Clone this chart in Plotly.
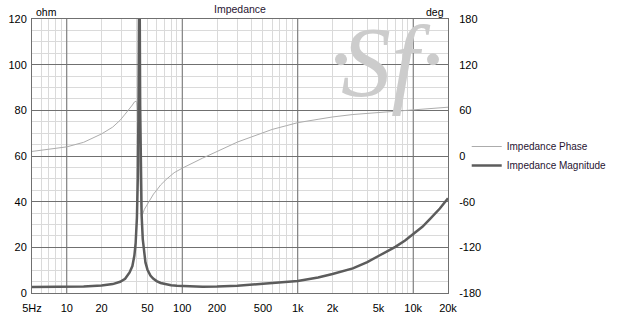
import plotly.graph_objects as go

# ---------------- data ----------------
mag_freq = [5, 7, 10, 14, 20, 25, 29, 32, 35, 37, 38.5, 39.5, 40.5, 41.2, 41.8, 42.2, 42.5,
            42.8, 43.2, 43.8, 44.5, 45.5, 46.5, 48, 50, 53, 56, 60, 65, 72, 80, 90, 100, 120,
            150, 200, 300, 500, 700, 1000, 1500, 2000, 3000, 4000, 5000, 6000, 7000, 8500,
            10000, 12000, 14000, 17000, 20000]
mag_ohm = [2.6, 2.65, 2.7, 2.85, 3.25, 3.9, 4.9, 6.2, 9.0, 11.8, 16.4, 22, 33, 50, 82, 127, 152,
           127, 82, 51, 34, 23.6, 18.3, 13.4, 10.2, 7.6, 6.3, 5.2, 4.4, 3.8, 3.4, 3.15, 3.0, 2.85,
           2.75, 2.85, 3.2, 4.0, 4.6, 5.3, 6.8, 8.3, 10.8, 13.5, 16.2, 18.3, 20.2, 23.0,
           25.7, 29.0, 32.5, 37.0, 41.5]

ph_freq = [5, 7, 10, 14, 20, 25, 29, 32, 35, 37, 38.5, 39.3, 39.8, 40.5, 41.2, 41.8, 42.5,
           43.2, 43.8, 44.7, 45.5, 47, 50, 53, 56.4, 60, 65, 73.6, 85, 100, 125, 150, 200,
           300, 400, 600, 800, 1000, 1500, 2000, 3000, 5000, 7000, 10000, 14000, 20000]
ph_deg = [6, 9, 12, 18, 29, 38, 47, 55, 62, 67, 71, 72.5, 72, 70, 60, 45, 0,
          -45, -65, -78, -76, -70, -63, -56, -50, -45, -38, -30, -22, -16, -8.5, -2.8, 5.9,
          18.3, 25.2, 34.9, 39.9, 43.8, 48.2, 51.3, 54.5, 57.2, 58.8, 60.2, 62.0, 64.1]

x_tickvals = [5, 10, 20, 50, 100, 200, 500, 1000, 2000, 5000, 10000, 20000]
x_ticktext = ["5Hz", "10", "20", "50", "100", "200", "500", "1k", "2k", "5k", "10k", "20k"]
x_decades = [10, 100, 1000, 10000]
x_minor = [m * d for d in [1, 10, 100, 1000, 10000] for m in range(2, 10) if 5 < m * d < 20000]

ohm_ticks = [0, 20, 40, 60, 80, 100, 120]
deg_ticks = [-180, -120, -60, 0, 60, 120, 180]
deg_text = ["-180", "-120", "-60", "0", "60", "120", "180"]

DARK = "rgb(112,112,112)"
LIGHT = "rgb(218,218,218)"
FONT = "Liberation Sans"

fig = go.Figure()

# dark decade grid lines
gx, gy = [], []
for d in x_decades:
    gx += [d, d, None]
    gy += [-180, 180, None]
fig.add_trace(go.Scatter(x=gx, y=gy, mode="lines", line=dict(color=DARK, width=1),
                         showlegend=False, hoverinfo="skip", xaxis="x", yaxis="y"))

fig.add_trace(go.Scatter(x=ph_freq, y=ph_deg, mode="lines", name="Impedance Phase",
                         line=dict(color="rgb(172,172,172)", width=1), xaxis="x", yaxis="y"))
fig.add_trace(go.Scatter(x=mag_freq, y=mag_ohm, mode="lines", name="Impedance Magnitude",
                         line=dict(color="rgb(92,92,92)", width=2.5), xaxis="x", yaxis="y2"))

fig.update_layout(
    width=623, height=313,
    margin=dict(l=32, r=175, t=19, b=20, autoexpand=False),
    paper_bgcolor="white", plot_bgcolor="white",
    font=dict(family=FONT, size=11, color="black"),
    xaxis=dict(type="log", range=[0.69897, 4.30103], tickmode="array",
               tickvals=x_tickvals, ticktext=x_ticktext,
               showgrid=True, gridcolor=LIGHT, gridwidth=1,
               minor=dict(tickmode="array", tickvals=x_minor, showgrid=True,
                          gridcolor=LIGHT, gridwidth=1, ticklen=0),
               showline=True, linecolor=DARK, linewidth=1, mirror=True,
               ticks="outside", ticklen=5, tickcolor="rgba(0,0,0,0)",
               zeroline=False, tickfont=dict(size=11), automargin=False),
    yaxis=dict(range=[-180, 180], side="right", tickmode="array", tickvals=deg_ticks,
               ticktext=deg_text, showgrid=True, gridcolor=DARK, gridwidth=1,
               minor=dict(dtick=15, tick0=0, showgrid=True, gridcolor=LIGHT, gridwidth=1),
               showline=True, linecolor=DARK, linewidth=1, mirror=True,
               zeroline=False, ticks="outside", ticklen=8, tickcolor="rgba(0,0,0,0)",
               tickfont=dict(size=11), automargin=False),
    yaxis2=dict(range=[0, 120], overlaying="y", side="left", tickmode="array",
                tickvals=ohm_ticks, showgrid=False, zeroline=False,
                ticks="outside", ticklen=2, tickcolor="rgba(0,0,0,0)",
                tickfont=dict(size=11), automargin=False),
    legend=dict(x=1.045, y=0.5, xanchor="left", yanchor="middle",
                font=dict(size=10, color="rgb(40,20,50)"),
                bgcolor="rgba(0,0,0,0)", tracegroupgap=0),
    showlegend=True,
)

fig.add_annotation(text="Impedance", x=0.5, y=1.038, xref="paper", yref="paper",
                   showarrow=False, xanchor="center", yanchor="middle",
                   font=dict(size=10.5, color="rgb(40,20,50)"))
fig.add_annotation(text="ohm", x=0.005, y=1.027, xref="paper", yref="paper",
                   showarrow=False, xanchor="left", yanchor="middle", font=dict(size=10.5))
fig.add_annotation(text="deg", x=0.995, y=1.027, xref="paper", yref="paper",
                   showarrow=False, xanchor="right", yanchor="middle", font=dict(size=10.5))

# watermark
WM = "rgb(204,204,204)"
fig.add_annotation(text="<i>Sf</i>", x=0.852, y=0.845, xref="paper", yref="paper",
                   showarrow=False, xanchor="center", yanchor="middle",
                   font=dict(family="Liberation Serif", size=100, color=WM))
for cx in [341, 433]:
    px = (cx - 32) / 416
    py = (293.5 - 59) / 275
    fig.add_shape(type="circle", xref="paper", yref="paper",
                  x0=px - 6 / 416, x1=px + 6 / 416, y0=py - 6 / 275, y1=py + 6 / 275,
                  fillcolor=WM, line=dict(width=0))

fig.write_html("out.html")
